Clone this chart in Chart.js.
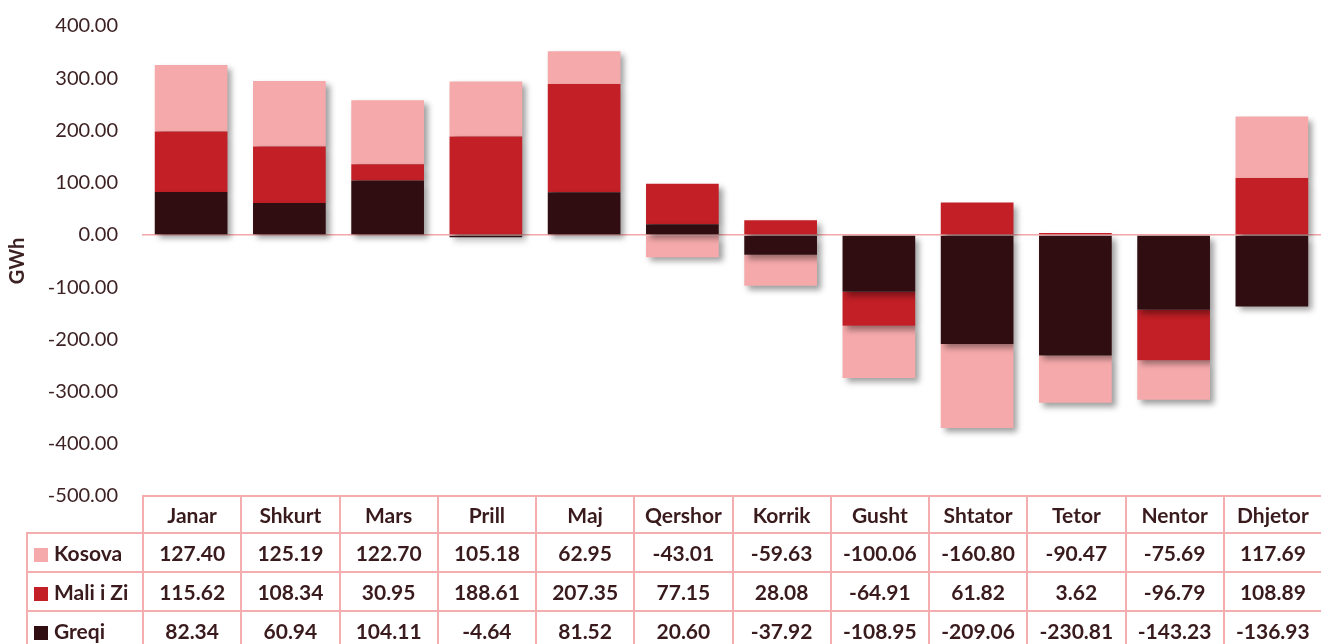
<!DOCTYPE html>
<html>
<head>
<meta charset="utf-8">
<script src="https://cdn.jsdelivr.net/npm/chart.js@4"></script>
<style>
  html, body { margin: 0; padding: 0; width: 1321px; height: 644px; overflow: hidden; background: #fff; }
  #wrap { position: relative; width: 1321px; height: 644px; }
  #c { position: absolute; left: 0; top: 0; }
  #tbl { position: absolute; border-collapse: collapse; table-layout: fixed; font-family: Lato, "Open Sans", sans-serif; font-weight: bold; font-size: 21px; color: #3a1b1d; }
  #tbl td { border: 2px solid #f5aeb0; text-align: center; padding: 0; white-space: nowrap; overflow: hidden; }
  #tbl td.corner { border: none; }
  #tbl td.lab { text-align: left; padding-left: 6px; }
  .sw { display: inline-block; width: 14px; height: 14px; margin-right: 6px; vertical-align: -1px; }
</style>
</head>
<body>
<div id="wrap">
  <canvas id="c" width="1321" height="644"></canvas>
  <table id="tbl"></table>
</div>
<script>
const months = ['Janar','Shkurt','Mars','Prill','Maj','Qershor','Korrik','Gusht','Shtator','Tetor','Nentor','Dhjetor'];
const kosova = [127.40,125.19,122.70,105.18,62.95,-43.01,-59.63,-100.06,-160.80,-90.47,-75.69,117.69];
const maliIZi = [115.62,108.34,30.95,188.61,207.35,77.15,28.08,-64.91,61.82,3.62,-96.79,108.89];
const greqi = [82.34,60.94,104.11,-4.64,81.52,20.60,-37.92,-108.95,-209.06,-230.81,-143.23,-136.93];
const seriesNames = ['Kosova','Mali i Zi','Greqi'];
const yMin = -500, yMax = 400, yStep = 100;
const axisTitle = 'GWh';

const colKosova = '#f5a9ab';
const colMali = '#c21f26';
const colGreqi = '#300d10';
const textCol = '#3d2224';

const shadowPlugin = {
  id: 'barShadow',
  beforeDatasetsDraw(chart) {
    const ctx = chart.ctx;
    ctx.save();
    ctx.shadowColor = 'rgba(0,0,0,0.38)';
    ctx.shadowBlur = 6;
    ctx.shadowOffsetX = 4;
    ctx.shadowOffsetY = 4;
  },
  afterDatasetsDraw(chart) {
    chart.ctx.restore();
  }
};

const chart = new Chart(document.getElementById('c'), {
  type: 'bar',
  data: {
    labels: months,
    datasets: [
      { label: seriesNames[2], data: greqi, backgroundColor: colGreqi, stack: 's' },
      { label: seriesNames[1], data: maliIZi, backgroundColor: colMali, stack: 's' },
      { label: seriesNames[0], data: kosova, backgroundColor: colKosova, stack: 's' }
    ]
  },
  options: {
    responsive: false,
    animation: false,
    devicePixelRatio: 1,
    layout: { padding: { top: 26, right: 0, bottom: 148, left: 0 } },
    plugins: { legend: { display: false }, tooltip: { enabled: false } },
    datasets: { bar: { categoryPercentage: 1.0, barPercentage: 0.74, borderWidth: 0 } },
    scales: {
      x: {
        stacked: true,
        display: false
      },
      y: {
        stacked: true,
        min: yMin, max: yMax,
        border: { display: false },
        grid: {
          drawTicks: false,
          color: ctx => (ctx.tick && ctx.tick.value === 0) ? '#f4a7a8' : 'rgba(0,0,0,0)',
          lineWidth: ctx => (ctx.tick && ctx.tick.value === 0) ? 1.5 : 0
        },
        ticks: {
          stepSize: yStep,
          padding: 24,
          color: textCol,
          font: { family: 'Lato', size: 20 },
          callback: v => Number(v).toFixed(2)
        },
        title: {
          display: true,
          text: axisTitle,
          color: textCol,
          font: { family: 'Lato', size: 20, weight: 'bold' },
          padding: { top: 6, bottom: 0 }
        },
        afterFit: s => { s.width = 142; s.paddingTop = 12; s.paddingBottom = 12; }
      }
    }
  },
  plugins: [shadowPlugin]
});

// Build data table aligned with chart categories
(function buildTable() {
  const area = chart.chartArea;
  const colW = (area.right - area.left) / months.length;
  const labW = 116;
  const tbl = document.getElementById('tbl');
  tbl.style.left = (area.left - labW) + 'px';
  tbl.style.top = (area.bottom - 1) + 'px';
  tbl.style.width = (labW + colW * months.length + 2) + 'px';
  let cg = '<colgroup><col style="width:' + labW + 'px">';
  months.forEach(() => { cg += '<col style="width:' + colW + 'px">'; });
  cg += '</colgroup>';
  let html = cg + '<tr style="height:37px"><td class="corner"></td>';
  months.forEach(m => { html += '<td>' + m + '</td>'; });
  html += '</tr>';
  const rows = [[seriesNames[0], kosova, colKosova], [seriesNames[1], maliIZi, colMali], [seriesNames[2], greqi, colGreqi]];
  rows.forEach(r => {
    html += '<tr style="height:39px"><td class="lab"><span class="sw" style="background:' + r[2] + '"></span>' + r[0] + '</td>';
    r[1].forEach(v => { html += '<td>' + v.toFixed(2) + '</td>'; });
    html += '</tr>';
  });
  tbl.innerHTML = html;
})();
</script>
</body>
</html>
